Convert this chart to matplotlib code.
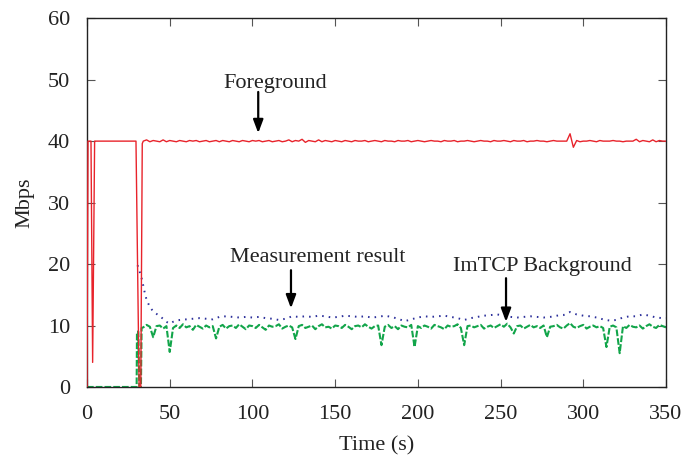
#!/usr/bin/env python3
"""Foreground / ImTCP background / measurement result throughput over time."""
import numpy as np
import matplotlib
matplotlib.use("Agg")
import matplotlib.pyplot as plt

plt.rcParams["font.family"] = ["Liberation Serif", "DejaVu Serif"]

# --- Foreground (red): start-up transient, then steady part on a 2 s grid
fg_t0 = [0.0, 0.6, 2.4, 3.4, 4.6, 29.6, 31.5, 32.5, 33.4]
fg_v0 = [0.0, 40.0, 40.0, 4.0, 40.0, 40.0, 0.0, 0.0, 39.6]
fg_steady = [
    40.0, 40.2, 39.9, 40.1, 40.0, 39.9, 40.2, 39.9, 40.1, 40.0,
    39.9, 40.1, 40.0, 39.9, 40.1, 40.0, 40.1, 39.9, 40.0, 40.1,
    39.9, 40.0, 40.1, 39.9, 40.1, 40.0, 39.9, 40.1, 40.0, 39.9,
    40.1, 40.0, 39.9, 40.1, 40.0, 40.1, 39.9, 40.0, 40.1, 39.9,
    40.0, 40.1, 39.9, 40.0, 40.2, 39.9, 40.1, 40.0, 40.3, 39.8,
    40.1, 40.0, 39.9, 40.2, 39.9, 40.1, 40.0, 39.9, 40.1, 40.0,
    39.9, 40.1, 40.0, 39.9, 40.1, 40.0, 40.0, 40.1, 39.9, 40.0,
    40.1, 40.0, 39.9, 40.1, 40.0, 40.0, 39.9, 40.1, 40.0, 40.0,
    40.1, 39.9, 40.0, 40.1, 40.0, 39.9, 40.0, 40.1, 40.0, 40.0,
    39.9, 40.1, 40.0, 40.0, 40.1, 39.9, 40.0, 40.0, 40.1, 40.0,
    39.9, 40.0, 40.1, 40.0, 40.0, 39.9, 40.1, 40.0, 40.0, 40.1,
    40.0, 39.9, 40.1, 40.0, 40.0, 40.1, 39.9, 40.0, 40.0, 40.1,
    40.0, 40.0, 39.9, 40.0, 40.1, 40.0, 40.0, 40.0, 40.0, 41.2,
    39.0, 40.1, 39.9, 40.0, 40.0, 40.1, 40.0, 39.9, 40.1, 40.0,
    40.0, 40.0, 40.1, 40.0, 40.0, 39.9, 40.0, 40.0, 40.0, 40.3,
    39.9, 40.1, 40.0, 39.9, 40.2, 39.9, 40.1, 40.0, 40.0,
]

# --- ImTCP background (green)
bg_t0 = [0.0, 30.0, 30.2, 31.0, 31.6, 32.6, 33.0]
bg_v0 = [0.0, 0.0, 9.0, 9.0, 0.0, 0.0, 9.6]
bg_steady = [
    9.7, 10.1, 9.8, 8.1, 9.9, 10.0, 9.5, 9.9, 5.7, 9.6,
    10.0, 9.6, 10.2, 9.7, 9.9, 9.3, 10.1, 9.8, 9.5, 10.0,
    9.7, 9.9, 7.9, 9.8, 10.1, 9.5, 9.9, 10.0, 9.6, 10.2,
    9.8, 9.4, 10.0, 9.9, 9.6, 10.1, 9.7, 9.3, 10.0, 9.8,
    9.9, 10.2, 9.5, 9.8, 10.0, 9.7, 7.8, 9.9, 10.1, 9.6,
    9.8, 10.0, 9.4, 9.9, 10.2, 9.7, 9.8, 9.5, 10.0, 9.9,
    9.6, 10.1, 9.8, 9.4, 9.9, 10.0, 9.7, 10.2, 9.8, 9.5,
    9.9, 10.0, 6.8, 9.8, 10.1, 9.6, 9.9, 9.4, 10.0, 9.8,
    9.7, 10.1, 6.5, 9.9, 9.6, 10.0, 9.8, 9.5, 10.1, 9.9,
    9.7, 9.4, 10.0, 9.8, 9.9, 10.2, 9.6, 6.8, 9.9, 10.0,
    9.7, 9.9, 10.1, 9.5, 9.8, 10.0, 9.6, 9.9, 10.2, 9.8,
    10.3, 9.7, 8.7, 9.9, 10.0, 9.5, 9.8, 10.1, 9.7, 9.9,
    9.6, 10.0, 8.1, 9.8, 9.9, 10.1, 9.7, 9.5, 10.0, 10.4,
    9.8, 9.6, 9.9, 10.1, 9.5, 9.8, 10.0, 9.7, 9.9, 9.6,
    6.5, 9.8, 10.0, 9.7, 5.5, 9.9, 9.6, 10.1, 9.8, 9.7,
    10.0, 9.5, 9.9, 10.2, 9.8, 9.6, 10.1, 9.9, 9.7,
]
steady_t = np.arange(34, 351, 2)

# --- Measurement result (blue)
ms_t0 = [30.5, 31, 32, 33, 34, 35, 36, 38, 40, 42, 44, 46, 48, 50, 52]
ms_v0 = [19.8, 19.5, 18.6, 17.7, 16.5, 15.2, 14.2, 13.0, 12.3, 11.9,
         11.5, 11.1, 10.6, 10.3, 10.6]
ms_steady = [
    10.9, 11.0, 11.1, 11.2, 11.1, 11.0, 11.4, 11.5, 11.4, 11.3,
    11.4, 11.3, 11.4, 11.2, 11.1, 10.9, 11.1, 11.5, 11.4, 11.5,
    11.4, 11.6, 11.5, 11.3, 11.4, 11.6, 11.5, 11.4, 11.5, 11.3,
    11.4, 11.6, 11.4, 11.1, 10.7, 11.0, 11.3, 11.5, 11.4, 11.5,
    11.6, 11.4, 11.2, 10.9, 11.2, 11.4, 11.6, 11.7, 11.8, 11.6,
    11.4, 11.3, 11.4, 11.5, 11.4, 11.3, 11.4, 11.6, 11.7, 12.2,
    11.8, 11.6, 11.5, 11.3, 11.0, 10.8, 10.9, 11.3, 11.5, 11.5,
    11.8, 11.6, 11.3, 11.2,
]
ms_steady_t = np.arange(56, 349, 4)

# labels: (text, text x, text y, arrow x, arrow top, arrow tip)
labels = [
    ("Foreground", 114, 49.4, 103.5, 48.0, 41.3),
    ("Measurement result", 139.5, 21.1, 123.3, 19.0, 12.8),
    ("ImTCP Background", 275, 19.6, 253.3, 17.7, 10.6),
]


def main():
    fig = plt.figure(figsize=(6.83, 4.55), dpi=100)
    ax = fig.add_axes([0.1274, 0.1495, 0.8477, 0.8105])

    fg_t = np.concatenate([fg_t0, steady_t])
    fg_v = np.concatenate([fg_v0, fg_steady])
    bg_t = np.concatenate([bg_t0, steady_t])
    bg_v = np.concatenate([bg_v0, bg_steady])
    ms_t = np.concatenate([ms_t0, ms_steady_t, [350]])
    ms_v = np.concatenate([ms_v0, ms_steady, [ms_steady[-1]]])

    ax.plot(bg_t, bg_v, color="#12a54a", lw=1.5, ls=(0, (3.2, 1.0)), zorder=2)
    ax.plot(ms_t, ms_v, color="#2b2f9a", lw=1.4, ls=(0, (0.8, 2.6)), zorder=3)
    ax.plot(fg_t, fg_v, color="#e8232b", lw=1.0, zorder=4)

    for txt, tx, ty, ax_x, a_top, a_tip in labels:
        ax.text(tx, ty, txt, fontsize=16, ha="center", va="center",
                color="#222222")
        ax.annotate("", xy=(ax_x, a_tip), xytext=(ax_x, a_top),
                    arrowprops=dict(arrowstyle="-|>,head_length=0.8,head_width=0.3",
                                    color="black", lw=1.6, shrinkA=0, shrinkB=0))

    ax.set_xlim(0, 350)
    ax.set_ylim(0, 60)
    ax.set_xticks(np.arange(0, 351, 50))
    ax.set_yticks(np.arange(0, 61, 10))
    ax.tick_params(direction="in", length=6, width=0.8, color="#555555",
                   top=True, right=True, labelsize=16, labelcolor="#222222")
    ax.tick_params(axis="y", pad=12)
    ax.tick_params(axis="x", pad=13)
    for s in ax.spines.values():
        s.set_linewidth(1.0)
        s.set_color("#222222")
    ax.set_xlabel("Time (s)", fontsize=16, color="#222222", labelpad=9)
    ax.set_ylabel("Mbps", fontsize=16, color="#222222", labelpad=10)

    fig.savefig("out.png", dpi=100)
    plt.close(fig)


if __name__ == "__main__":
    main()
